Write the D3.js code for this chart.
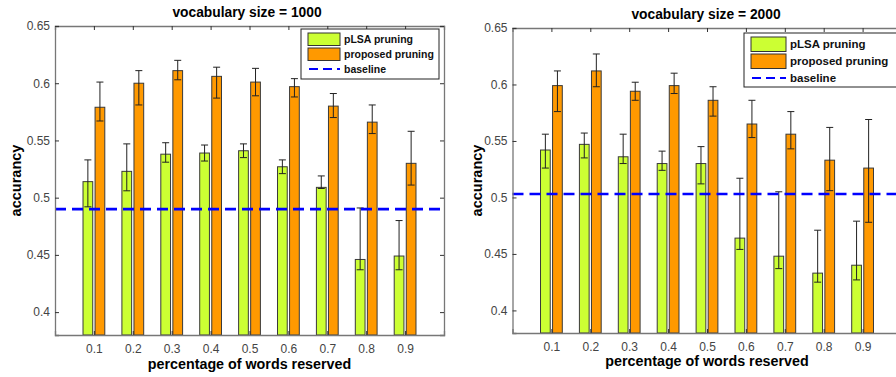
<!DOCTYPE html>
<html><head><meta charset="utf-8">
<script src="https://cdn.jsdelivr.net/npm/d3@7"></script>
<style>
html,body{margin:0;padding:0;background:#fff;}
svg{display:block;font-family:"Liberation Sans",Arial,sans-serif;}
</style></head>
<body><svg id="chart" width="896" height="377"></svg>
<script>
// ---- data ----
const categories = [0.1,0.2,0.3,0.4,0.5,0.6,0.7,0.8,0.9];
const xTickLabels = ["0.1","0.2","0.3","0.4","0.5","0.6","0.7","0.8","0.9"];
const yTicks = [0.4,0.45,0.5,0.55,0.6,0.65];
const yTickLabels = ["0.4","0.45","0.5","0.55","0.6","0.65"];
const seriesNames = ["pLSA pruning","proposed pruning","baseline"];
const titles = ["vocabulary size = 1000","vocabulary size = 2000"];

const plsa1000 = [0.514,0.523,0.538,0.539,0.541,0.527,0.509,0.446,0.449];
const plsa1000Lo = [0.492,0.506,0.531,0.532,0.535,0.521,0.508,0.437,0.437];
const plsa1000Hi = [0.533,0.547,0.548,0.546,0.547,0.533,0.519,0.491,0.480];
const prop1000 = [0.579,0.600,0.611,0.606,0.601,0.597,0.580,0.566,0.530];
const prop1000Lo = [0.567,0.581,0.603,0.587,0.589,0.588,0.570,0.556,0.511];
const prop1000Hi = [0.601,0.611,0.620,0.614,0.613,0.604,0.591,0.581,0.558];
const baseline1000 = 0.49;

const plsa2000 = [0.542,0.547,0.536,0.530,0.530,0.464,0.448,0.433,0.440];
const plsa2000Lo = [0.526,0.535,0.530,0.524,0.512,0.454,0.437,0.425,0.427];
const plsa2000Hi = [0.556,0.557,0.556,0.541,0.545,0.517,0.505,0.471,0.479];
const prop2000 = [0.599,0.612,0.594,0.599,0.586,0.565,0.556,0.533,0.526];
const prop2000Lo = [0.576,0.598,0.586,0.592,0.572,0.553,0.543,0.506,0.478];
const prop2000Hi = [0.612,0.627,0.602,0.610,0.598,0.586,0.576,0.562,0.569];
const baseline2000 = 0.503;

const colors = ["#ccff33","#ff9900","#0000ff"];

const svg = d3.select("#chart");

const panels = [
  {title:titles[0], x0:55, x1:444, yTop:26, yBot:335, a:plsa1000, aLo:plsa1000Lo, aHi:plsa1000Hi,
   b:prop1000, bLo:prop1000Lo, bHi:prop1000Hi, base:baseline1000, titleX:247,
   titleY:17, xlabY:369, ylabX:21, tickFs:12, leg:{x:301,y:29,w:138,h:50,fs:10.5,sw:32,row:15}},
  {title:titles[1], x0:512.5, x1:901.5, yTop:28, yBot:333, a:plsa2000, aLo:plsa2000Lo, aHi:plsa2000Hi,
   b:prop2000, bLo:prop2000Lo, bHi:prop2000Hi, base:baseline2000, titleX:706,
   titleY:19, xlabY:366, ylabX:482, tickFs:12, leg:{x:744,y:33,w:170,h:54,fs:11.5,sw:35,row:17}}
];

panels.forEach(p => {
  const g = svg.append("g");
  const x = d3.scaleLinear().domain([0,1]).range([p.x0,p.x1]);
  const y = d3.scaleLinear().domain([0.38,0.65]).range([p.yBot,p.yTop]);
  const step = x(0.1)-x(0);
  const bw = step*0.25, off = step*0.155;

  // bars
  const groups = [
    {v:p.a, lo:p.aLo, hi:p.aHi, c:colors[0], d:-off},
    {v:p.b, lo:p.bLo, hi:p.bHi, c:colors[1], d:off}
  ];
  groups.forEach(s => {
    g.selectAll(null).data(categories).enter().append("rect")
      .attr("x", (c)=>x(c)+s.d-bw/2)
      .attr("y", (c,i)=>y(s.v[i]))
      .attr("width", bw)
      .attr("height", (c,i)=>y(0.38)-y(s.v[i]))
      .attr("fill", s.c).attr("stroke","#3a3a3a").attr("stroke-width",1);
  });
  // error bars
  groups.forEach(s => {
    const eg = g.selectAll(null).data(categories).enter().append("g")
      .attr("stroke","#222").attr("stroke-width",1);
    eg.append("line").attr("x1",c=>x(c)+s.d).attr("x2",c=>x(c)+s.d)
      .attr("y1",(c,i)=>y(s.lo[i])).attr("y2",(c,i)=>y(s.hi[i]));
    eg.append("line").attr("x1",c=>x(c)+s.d-3.5).attr("x2",c=>x(c)+s.d+3.5)
      .attr("y1",(c,i)=>y(s.lo[i])).attr("y2",(c,i)=>y(s.lo[i]));
    eg.append("line").attr("x1",c=>x(c)+s.d-3.5).attr("x2",c=>x(c)+s.d+3.5)
      .attr("y1",(c,i)=>y(s.hi[i])).attr("y2",(c,i)=>y(s.hi[i]));
  });
  // baseline
  g.append("line").attr("x1",x(0)).attr("x2",x(1))
    .attr("y1",y(p.base)).attr("y2",y(p.base))
    .attr("stroke",colors[2]).attr("stroke-width",2.6).attr("stroke-dasharray","11,6");

  // axes
  const axColor = "#777";
  const xl = d3.axisBottom(x).tickValues(categories).tickSize(-4).tickPadding(9)
      .tickFormat((d,i)=>xTickLabels[i]);
  const xt = d3.axisTop(x).tickValues(categories).tickSize(-4).tickFormat("");
  const yl = d3.axisLeft(y).tickValues(yTicks).tickSize(-4).tickPadding(5)
      .tickFormat((d,i)=>yTickLabels[i]);
  const yr = d3.axisRight(y).tickValues(yTicks).tickSize(-4).tickFormat("");
  [[xl,`translate(0,${p.yBot})`],[xt,`translate(0,${p.yTop})`],[yl,`translate(${p.x0},0)`],[yr,`translate(${p.x1},0)`]]
    .forEach(([ax,tr]) => {
      const a = g.append("g").attr("transform",tr).call(ax);
      a.select(".domain").attr("stroke",axColor).attr("stroke-width",1.3);
      a.selectAll(".tick line").attr("stroke","#333");
      a.selectAll("text").attr("fill","#444").attr("font-size",p.tickFs)
        .attr("font-family","'Liberation Sans',Arial,sans-serif");
    });

  // texts
  g.append("text").attr("x",p.titleX).attr("y",p.titleY)
    .attr("text-anchor","middle").attr("font-weight","bold").attr("font-size",13.8)
    .text(p.title);
  g.append("text").attr("x",x(0.5)).attr("y",p.xlabY)
    .attr("text-anchor","middle").attr("font-weight","bold").attr("font-size",14.3)
    .text("percentage of words reserved");
  g.append("text").attr("transform",`translate(${p.ylabX},${(p.yTop+p.yBot)/2}) rotate(-90)`)
    .attr("text-anchor","middle").attr("font-weight","bold").attr("font-size",14.5)
    .text("accurancy");

  // legend
  const L = p.leg;
  const lg = g.append("g");
  lg.append("rect").attr("x",L.x).attr("y",L.y).attr("width",L.w).attr("height",L.h)
    .attr("fill","#fff").attr("stroke","#222").attr("stroke-width",1);
  [0,1].forEach(k => {
    lg.append("rect").attr("x",L.x+7).attr("y",L.y+3+k*L.row+1).attr("width",L.sw).attr("height",L.row-2.5)
      .attr("fill",colors[k]).attr("stroke","#333").attr("stroke-width",1);
  });
  lg.append("line").attr("x1",L.x+8).attr("x2",L.x+7+L.sw)
    .attr("y1",L.y+3+2*L.row+L.row/2-0.5).attr("y2",L.y+3+2*L.row+L.row/2-0.5)
    .attr("stroke",colors[2]).attr("stroke-width",2).attr("stroke-dasharray","9,5");
  seriesNames.forEach((n,k) => {
    lg.append("text").attr("x",L.x+L.sw+11).attr("y",L.y+3+k*L.row+L.row/2+0.5)
      .attr("dominant-baseline","middle").attr("font-weight","bold").attr("font-size",L.fs)
      .attr("fill","#111").text(n);
  });
});
</script></body></html>
